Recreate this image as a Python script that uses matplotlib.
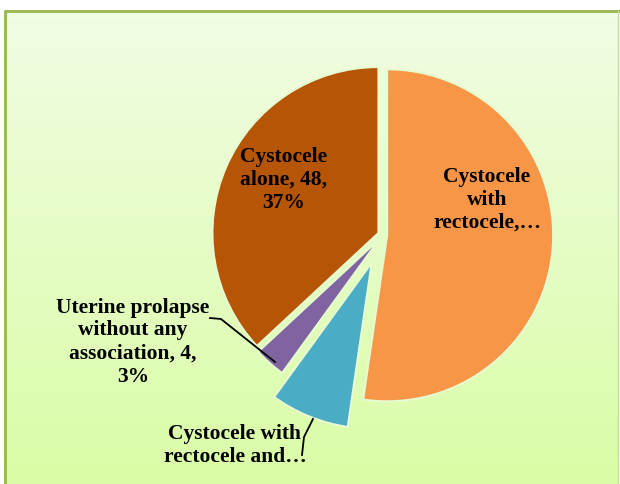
import matplotlib.pyplot as plt
import numpy as np

categories = ["Cystocele\nwith\nrectocele,…", "Cystocele with\nrectocele and…",
              "Uterine prolapse\nwithout any\nassociation, 4,\n3%", "Cystocele\nalone, 48,\n37%"]
values = [68, 10, 4, 48]
colors = ["#f79646", "#4bacc6", "#8064a2", "#b75506"]
explode = [0.025, 0.18, 0.03, 0.03]

W, H = 620, 484
fig = plt.figure(figsize=(6.2, 4.84), dpi=100)
ax = fig.add_axes([0, 0, 1, 1])

# gradient background inside green frame
grad = np.linspace(0, 1, 256)[:, None]
top = np.array([241, 253, 228]) / 255
bot = np.array([218, 252, 166]) / 255
img = top[None, None, :] * (1 - grad[..., None]) + bot[None, None, :] * grad[..., None]
ax.imshow(img, extent=(5, 618, 0, 473), aspect="auto", zorder=0)
ax.plot([5, 5, 618], [0, 473, 473], color="#9bbb59", lw=2.2, zorder=1)
ax.plot([618, 618], [0, 473], color="#c5dc9a", lw=1, zorder=1)

cx, cy, r = 383, 249, 166
wedges, _ = ax.pie(values, colors=colors, explode=[e * r for e in explode], startangle=90,
                   counterclock=False, center=(cx, cy), radius=r, frame=True,
                   wedgeprops=dict(edgecolor="#e6fbcf", linewidth=1.5, zorder=2))

font = dict(family="Liberation Serif", fontweight="bold", fontsize=15.5,
            ha="center", va="center", linespacing=1.2, zorder=5)
ax.text(487, H - 200, categories[0], **font)
ax.text(284, H - 180, categories[3], **font)
ax.text(133, H - 342, categories[2], **font)
ax.text(235, H - 445, categories[1], **font)

# leader lines
ax.plot([210, 221, 275], [H - 318, H - 319, H - 362], color="black", lw=1.3, zorder=4)
ax.plot([302, 304, 313], [H - 455, H - 437, H - 419], color="black", lw=1.3, zorder=4)

ax.set_xlim(0, W)
ax.set_ylim(0, H)
ax.set_aspect("auto")
ax.axis("off")
fig.savefig("out.png", dpi=100)
